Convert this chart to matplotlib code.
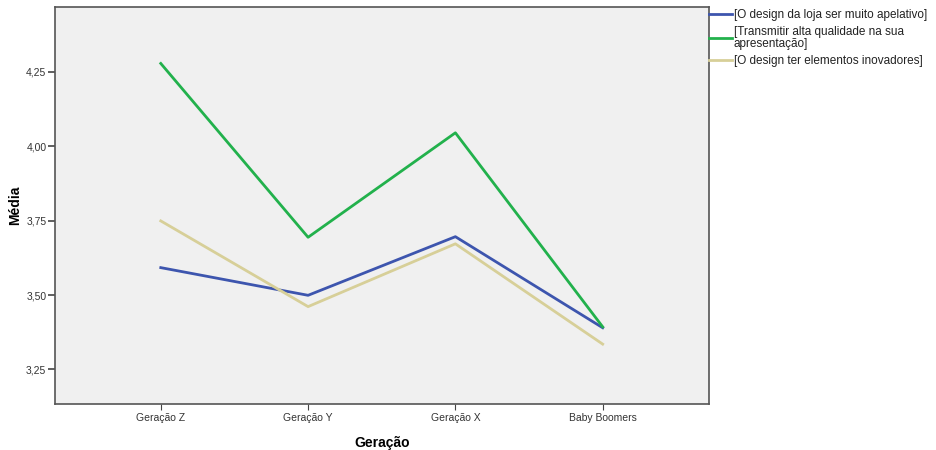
import matplotlib
matplotlib.use("Agg")
import matplotlib.pyplot as plt
from matplotlib.ticker import FuncFormatter

plt.rcParams['font.family'] = ['Liberation Sans', 'DejaVu Sans']

# %% data
geracoes = ['Geração Z', 'Geração Y', 'Geração X', 'Baby Boomers']
design_loja = [3.592, 3.499, 3.696, 3.390]
alta_qualidade = [4.278, 3.694, 4.045, 3.393]
elementos_inovadores = [3.749, 3.461, 3.672, 3.335]
labels = ['[O design da loja ser muito apelativo]',
          '[Transmitir alta qualidade na sua\napresentação]',
          '[O design ter elementos inovadores]']
cores = ['#3D55AE', '#22B14C', '#D7CF98']
yticks = [3.25, 3.50, 3.75, 4.00, 4.25]

# %% plot
fig = plt.figure(figsize=(9.37, 4.5), dpi=100)
ax = fig.add_axes([0.0584, 0.103, 0.698, 0.881])
ax.set_facecolor('#F0F0F0')

x = list(range(len(geracoes)))
for serie, cor, lab in zip([design_loja, alta_qualidade, elementos_inovadores], cores, labels):
    ax.plot(x, serie, color=cor, lw=2, label=lab)

ax.set_xlim(-0.72, 3.72)
ax.set_ylim(3.135, 4.467)
ax.set_xticks(x)
ax.set_xticklabels(geracoes, fontsize=7.5, color='#333333')
ax.set_yticks(yticks)
ax.yaxis.set_major_formatter(FuncFormatter(lambda v, p: ('%.2f' % v).replace('.', ',')))
ax.tick_params(axis='y', labelsize=7.5, length=5, width=1.2, color='#444444', labelcolor='#333333', pad=1)
ax.tick_params(axis='x', length=4, width=0.8, color='#444444', pad=3)
for s in ax.spines.values():
    s.set_color('#555555')
    s.set_linewidth(1.2)

ax.set_xlabel('Geração', fontsize=10, fontweight='bold', labelpad=9)
ax.set_ylabel('Média', fontsize=10, fontweight='bold')
ax.yaxis.set_label_coords(-0.05, 0.5)

leg = fig.legend(loc='upper left', bbox_to_anchor=(0.7564, 0.98), frameon=False,
                 fontsize=8.5, handlelength=2.0, handletextpad=0.1, borderpad=0,
                 borderaxespad=0, labelspacing=0.4)
leg.get_texts()[1].set_linespacing(1.05)
for t in leg.get_texts():
    t.set_color('#222222')

fig.savefig('out.png', dpi=100)
plt.close()
